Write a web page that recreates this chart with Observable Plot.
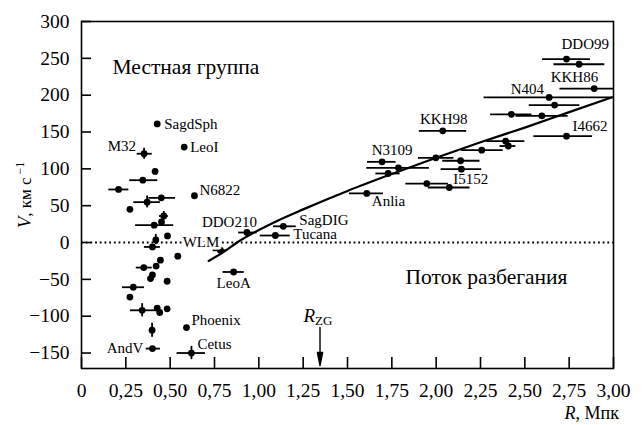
<!DOCTYPE html>
<html><head><meta charset="utf-8">
<script src="https://cdn.jsdelivr.net/npm/d3@7"></script>
<script src="https://cdn.jsdelivr.net/npm/@observablehq/plot@0.6"></script>
<style>body{margin:0;background:#fff;} #chart svg{display:block;}</style>
</head><body><div id="chart"></div><script>
// ---- data ----
const names = ["SagdSph","LeoI","M32","","","","","","","N6822",
  "","","","","","","","","","",
  "","","","","","","","","","",
  "AndV","Cetus","Phoenix","LeoA","WLM","DDO210","SagDIG","Tucana",
  "Anlia","N3109","","","","I5152","KKH98","","","","","","","I4662","","","","N404","KKH86","DDO99",""];
const R = [0.427,0.579,0.353,0.415,0.346,0.209,0.450,0.370,0.273,0.637,
  0.464,0.451,0.410,0.485,0.419,0.400,0.543,0.445,0.421,0.351,
  0.400,0.389,0.483,0.292,0.273,0.342,0.427,0.441,0.483,0.398,
  0.400,0.620,0.592,0.858,0.783,0.933,1.138,1.093,
  1.609,1.695,1.787,1.729,1.947,2.074,2.037,1.998,2.138,2.142,2.257,2.392,2.407,2.735,2.424,2.596,2.668,2.637,2.891,2.735,2.806];
const V = [161,129.5,120.5,96.5,84.6,72,60.6,54.8,45,63.5,
  36,28,23.5,9,3.5,-6,-18.6,-24,-32,-34,
  -44,-49,-52.6,-60.7,-74,-92,-89,-95,-90,-119,
  -144,-150,-115.5,-40,-10.5,13.6,22,9.5,
  66.6,109.5,101.4,93.7,80,74.7,151.6,115,111,99.6,125.4,137.6,131,144.4,174,172,186.5,197,209,249,242];
const rLo = [null,null,0.314,null,0.272,0.154,0.38,0.295,null,null,
  0.44,null,0.305,null,null,0.355,null,null,null,0.309,
  null,null,null,0.231,null,0.276,null,null,null,null,
  0.365,0.539,null,0.798,0.742,0.886,1.083,1.008,
  1.511,1.613,1.609,1.66,1.829,1.956,1.905,1.90,2.037,2.028,2.144,2.285,2.36,2.551,2.307,2.45,2.525,2.27,2.698,2.60,2.664];
const rHi = [null,null,0.399,null,0.430,0.267,0.53,0.445,null,null,
  0.49,null,0.52,null,null,0.445,null,null,null,0.399,
  null,null,null,0.355,null,0.427,null,null,null,null,
  0.445,0.699,null,0.918,0.821,0.99,1.211,1.177,
  1.703,1.774,1.962,1.797,2.069,2.191,2.172,2.10,2.247,2.257,2.378,2.50,2.45,2.882,2.54,2.744,2.81,3.05,3.05,2.87,2.951];
const vLo = [null,null,113,null,null,null,null,47,null,null,
  31,null,null,null,-3,null,null,null,null,null,
  null,null,null,null,null,-101,null,null,null,-128.5,
  null,-159,null,null,null,null,null,null,
  null,null,null,null,null,null,null,null,null,null,null,null,null,null,null,null,null,null,null,null,null];
const vHi = [null,null,128,null,null,null,null,63,null,null,
  42,null,null,null,11,null,null,null,null,null,
  null,null,null,null,null,-83,null,null,null,-109.5,
  null,-141,null,null,null,null,null,null,
  null,null,null,null,null,null,null,null,null,null,null,null,null,null,null,null,null,null,null,null,null];
const curveR = [0.717,0.80,0.877,1.0,1.1,1.25,1.5,1.75,2.0,2.25,2.5,2.75,2.99];
const curveV = [-25,-13,0,17,29,45,70,93,115,136,156,177,197];
const rZG = 1.345;
const xTicks = [0,0.25,0.5,0.75,1,1.25,1.5,1.75,2,2.25,2.5,2.75,3];
const yTicks = [-150,-100,-50,0,50,100,150,200,250,300];
const regionLabels = ["Местная группа","Поток разбегания"];

// ---- derived tables ----
const idx = R.map((_, i) => i);
const hasR = idx.filter(i => rLo[i] != null);
const hasV = idx.filter(i => vLo[i] != null);
const curveIdx = curveR.map((_, i) => i);

// label placement (style)
const labelStyle = {
  SagdSph:[ "start",7,0], LeoI:["start",6,0], M32:["end",-8,-8], N6822:["start",5,-6],
  DDO210:["end",10,-10], WLM:["end",-1,-8], LeoA:["middle",0,11], SagDIG:["start",16,-6],
  Tucana:["start",18,-1], Anlia:["start",5,8], N3109:["middle",10,-12], KKH98:["middle",1,-12],
  I5152:["start",4,-8], N404:["end",-5,-8], KKH86:["end",4,-11], DDO99:["start",-5,-15],
  I4662:["start",6,-10], Phoenix:["start",5,-7], Cetus:["start",6,-9], AndV:["end",-9,0]
};
const labelMarks = idx.filter(i => names[i]).map(i => {
  const [ta, dx, dy] = labelStyle[names[i]];
  return Plot.text([i], {x: j => R[j], y: j => V[j], text: j => names[j], textAnchor: ta, dx, dy,
    fontSize: 15, fill: "black",
    stroke: names[i] === "WLM" ? "white" : null, strokeWidth: 5});
});

const fmtX = d => d === 0 ? "0" : d.toFixed(2).replace(".", ",");

const arrowShape = {draw(ctx, l) {
  ctx.moveTo(0, 0); ctx.lineTo(0, -l + 8);
  ctx.moveTo(0, -l); ctx.lineTo(-2.6, -l + 13); ctx.lineTo(2.6, -l + 13); ctx.closePath();
}};

const chart = Plot.plot({
  width: 642, height: 425,
  marginLeft: 81, marginRight: 29, marginTop: 21, marginBottom: 57,
  style: {fontFamily: "'Liberation Serif', 'Times New Roman', serif", fontSize: "19px", color: "black", background: "white", overflow: "visible"},
  x: {domain: [0, 3], label: null},
  y: {domain: [-171, 300], label: null},
  marks: [
    Plot.ruleY([0], {strokeDasharray: "1.8 2.9", strokeWidth: 1.8}),
    Plot.line(curveIdx, {x: i => curveR[i], y: i => curveV[i], strokeWidth: 2.2, curve: "monotone-x"}),
    Plot.ruleY(hasR, {y: i => V[i], x1: i => rLo[i], x2: i => rHi[i], strokeWidth: 1.8, clip: true}),
    Plot.ruleX(hasV, {x: i => R[i], y1: i => vLo[i], y2: i => vHi[i], strokeWidth: 1.8}),
    Plot.dot(idx, {x: i => R[i], y: i => V[i], r: 3.4, fill: "black", stroke: null}),
    ...labelMarks,
    Plot.text([regionLabels[0]], {frameAnchor: "top-left", lineAnchor: "middle", textAnchor: "start", dx: 31, dy: 46, fontSize: 21.5}),
    Plot.text([regionLabels[1]], {frameAnchor: "top-right", lineAnchor: "middle", textAnchor: "end", dx: -46, dy: 256, fontSize: 21.5}),
    Plot.vector([rZG], {x: d => d, frameAnchor: "bottom", dy: -3, length: 38, rotate: 180, anchor: "end",
      shape: arrowShape, stroke: "black", fill: "black", strokeWidth: 1.4}),
    Plot.tickX(xTicks, {x: d => d, insetTop: 336, strokeWidth: 1.6}),
    Plot.tickY(yTicks, {y: d => d, insetRight: 522, strokeWidth: 1.6}),
    Plot.axisX(xTicks, {tickSize: 0, tickPadding: 15, tickFormat: fmtX, fontSize: 19.5, label: null}),
    Plot.axisY(yTicks, {tickSize: 0, tickPadding: 12, fontSize: 19.5, label: null}),
    Plot.frame({strokeWidth: 1.6})
  ]
});
document.getElementById("chart").appendChild(chart);

// composite-styled text labels
const svg = d3.select(chart);
const xs = chart.scale("x");
const fam = "'Liberation Serif', 'Times New Roman', serif";
// y axis label
const yl = svg.append("text").attr("transform", "translate(31,195) rotate(-90)")
  .attr("text-anchor", "middle").attr("font-family", fam).attr("font-size", 17).attr("fill", "black");
yl.append("tspan").attr("font-style", "italic").attr("font-size", 19).text("V");
yl.append("tspan").text(", км с");
yl.append("tspan").attr("font-size", 12).attr("dy", "-0.6em").text(" \u22121");
// x axis label
const xl = svg.append("text").attr("x", 619).attr("y", 419).attr("text-anchor", "end")
  .attr("font-family", fam).attr("font-size", 18).attr("fill", "black");
xl.append("tspan").attr("font-style", "italic").text("R");
xl.append("tspan").text(", Мпк");
// R_ZG label
const rz = svg.append("text").attr("x", xs.apply(rZG) - 16).attr("y", 322).attr("text-anchor", "start")
  .attr("font-family", fam).attr("font-size", 19).attr("fill", "black");
rz.append("tspan").attr("font-style", "italic").text("R");
rz.append("tspan").attr("font-size", 13).attr("dy", "0.25em").text("ZG");
</script></body></html>
